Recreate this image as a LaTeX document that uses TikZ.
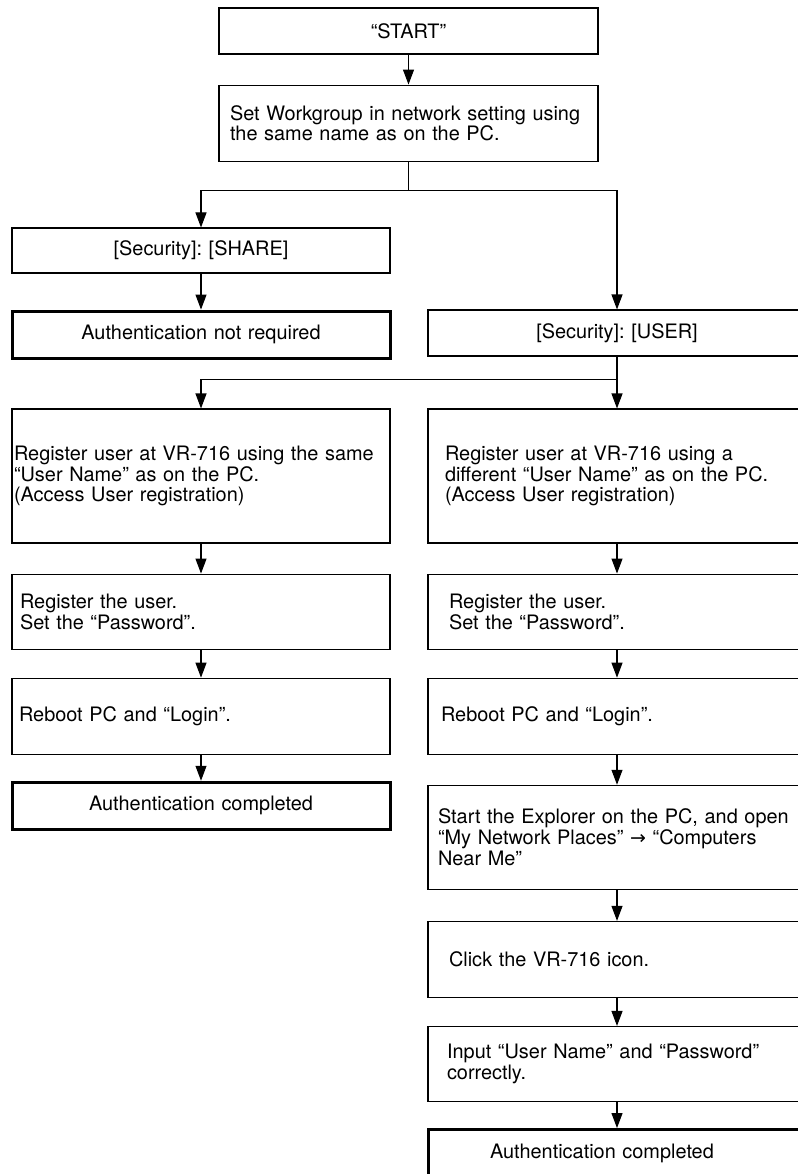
\documentclass[tikz,border=0pt]{standalone}
\usepackage{fontspec}
\setmainfont{TeX Gyre Heros}
\newfontfamily\arrowfont{DejaVu Sans}
\usetikzlibrary{arrows.meta, positioning}
\frenchspacing

\begin{document}
\begin{tikzpicture}[x=1pt, y=-1pt,
    box/.style={draw, line width=1.1pt, font=\fontsize{19.9}{20.7}\selectfont, align=left, inner ysep=0pt},
    cbox/.style={box, align=center, text width=378pt, inner xsep=0pt},
    endbox/.style={cbox, line width=3pt},
    arr/.style={-{Triangle[length=15pt, width=11pt]}, line width=1.1pt},
]
\useasboundingbox (0,0) rectangle (797,1174);

% top of the chart
\node[cbox, text width=379pt, minimum height=46pt] (start) at (408.5,31) {“START”};
\node[box, text width=357pt, inner xsep=11pt, minimum height=76pt, below=30pt of start] (wg) {Set Workgroup in network setting using\\the same name as on the PC.};
\coordinate[below=29pt of wg.south] (fork);

\node[cbox, minimum height=45pt] (share) at (201,250.5) {[Security]: [SHARE]};
\node[endbox, minimum height=47pt, below=36pt of share] (noauth) {Authentication not required};
\node[cbox, minimum height=46pt] (user) at (617,333) {[Security]: [USER]};
\coordinate[below=23pt of user.south] (fork2);

% left column
\node[box, text width=374pt, inner xsep=2pt, minimum height=134pt] (regsame) at (201,476) {Register user at VR-716 using the same\\“User Name” as on the PC.\\(Access User registration)};
\node[box, text width=362pt, inner xsep=8pt, minimum height=75pt, below=30pt of regsame] (pwdl) {Register the user.\\Set the “Password”.};
\node[box, text width=364pt, inner xsep=7pt, minimum height=76pt, below=28pt of pwdl] (rebootl) {Reboot PC and “Login”.};
\node[endbox, minimum height=47pt, below=26pt of rebootl] (donel) {Authentication completed};

% right column
\node[box, text width=344pt, inner xsep=17pt, minimum height=134pt] (regdiff) at (617,476) {Register user at VR-716 using a\\different “User Name” as on the PC.\\(Access User registration)};
\node[box, text width=336pt, inner xsep=21pt, minimum height=75pt, below=30pt of regdiff] (pwdr) {Register the user.\\Set the “Password”.};
\node[box, text width=352pt, inner xsep=13pt, minimum height=76pt, below=28pt of pwdr] (rebootr) {Reboot PC and “Login”.};
\node[box, text width=358pt, inner xsep=10pt, minimum height=104pt, below=30pt of rebootr] (explorer) {Start the Explorer on the PC, and open\\“My Network Places” {\arrowfont\fontsize{19}{19}\selectfont →} “Computers\\Near Me”};
\node[box, text width=336pt, inner xsep=21pt, minimum height=76pt, below=31pt of explorer] (click) {Click the VR-716 icon.};
\node[box, text width=340pt, inner xsep=19pt, minimum height=75pt, below=28pt of click] (input) {Input “User Name” and “Password”\\correctly.};
\node[endbox, align=left, text width=254pt, inner xsep=62pt, minimum height=47pt, below=26pt of input] (doner) {Authentication completed};

\draw[arr] (start) -- (wg);
\draw[arr] (wg) -- (fork) -| (share);
\draw[arr] (fork) -| (user);
\draw[arr] (share) -- (noauth);
\draw[arr] (user) -- (fork2) -| (regsame);
\draw[arr] (fork2) -- (regdiff);
\draw[arr] (regsame) -- (pwdl);
\draw[arr] (pwdl) -- (rebootl);
\draw[arr] (rebootl) -- (donel);
\draw[arr] (regdiff) -- (pwdr);
\draw[arr] (pwdr) -- (rebootr);
\draw[arr] (rebootr) -- (explorer);
\draw[arr] (explorer) -- (click);
\draw[arr] (click) -- (input);
\draw[arr] (input) -- (doner);

\end{tikzpicture}
\end{document}
